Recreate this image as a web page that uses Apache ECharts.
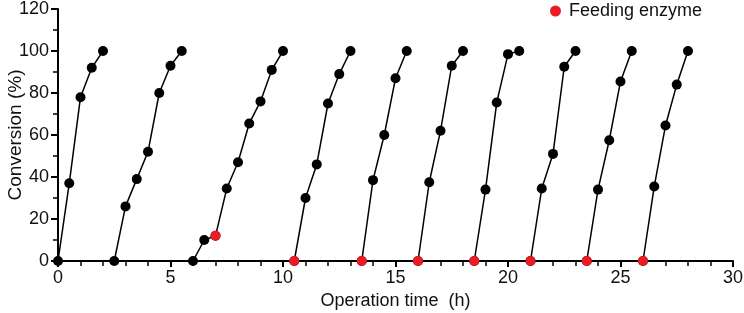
<!DOCTYPE html>
<html>
<head>
<meta charset="utf-8">
<script src="https://cdn.jsdelivr.net/npm/echarts@6/dist/echarts.min.js"></script>
<style>
  html, body { margin: 0; padding: 0; background: #fff; }
  #chart { width: 744px; height: 313px; }
</style>
</head>
<body>
<div id="chart"></div>
<script>
// operation time (h) of each batch run
var runTimes = [
  [0, 0.5, 1, 1.5, 2],
  [2.5, 3, 3.5, 4, 4.5, 5, 5.5],
  [6, 6.5, 7, 7.5, 8, 8.5, 9, 9.5, 10],
  [10.5, 11, 11.5, 12, 12.5, 13],
  [13.5, 14, 14.5, 15, 15.5],
  [16, 16.5, 17, 17.5, 18],
  [18.5, 19, 19.5, 20, 20.5],
  [21, 21.5, 22, 22.5, 23],
  [23.5, 24, 24.5, 25, 25.5],
  [26, 26.5, 27, 27.5, 28]
];
// conversion (%) of each batch run
var runConversion = [
  [0, 37, 78, 92, 100],
  [0, 26, 39, 52, 80, 93, 100],
  [0, 10, 12, 34.5, 47, 65.5, 76, 91, 100],
  [0, 30, 46, 75, 89, 100],
  [0, 38.5, 60, 87, 100],
  [0, 37.5, 62, 93, 100],
  [0, 34, 75.5, 98.5, 100],
  [0, 34.5, 51, 92.5, 100],
  [0, 34, 57.5, 85.5, 100],
  [0, 35.5, 64.5, 84, 100]
];
// points where enzyme was fed
var feedTimes = [7, 10.5, 13.5, 16, 18.5, 21, 23.5, 26];
var feedConversion = [12, 0, 0, 0, 0, 0, 0, 0];

var tickColor = '#000';

var myChart = echarts.init(document.getElementById('chart'));

var font = 'Liberation Sans, Arial, sans-serif';
var series = [];
for (var i = 0; i < runTimes.length; i++) {
  var pts = [];
  for (var j = 0; j < runTimes[i].length; j++) {
    pts.push([runTimes[i][j], runConversion[i][j]]);
  }
  series.push({
    name: 'run' + (i + 1),
    type: 'line',
    data: pts,
    symbol: 'circle',
    symbolSize: 10,
    clip: false,
    lineStyle: { color: '#000', width: 1.5 },
    itemStyle: { color: '#000', opacity: 1 },
    z: 3
  });
}
var feedPts = [];
for (var k = 0; k < feedTimes.length; k++) {
  feedPts.push([feedTimes[k], feedConversion[k]]);
}
// red dots drawn over the run points where enzyme was added
series.push({
  name: 'Feeding enzyme',
  type: 'scatter',
  data: feedPts,
  symbol: 'circle',
  symbolSize: 10,
  clip: false,
  itemStyle: { color: '#ec1c24', opacity: 1 },
  z: 4
});

myChart.setOption({
  animation: false,
  backgroundColor: '#fff',
  legend: {
    data: ['Feeding enzyme'],
    left: 550,
    top: 2,
    padding: 0,
    icon: 'circle',
    itemWidth: 11,
    itemHeight: 11,
    itemGap: 10,
    itemStyle: { opacity: 1 },
    textStyle: { fontFamily: font, fontSize: 18, color: '#111', padding: [0, 0, 0, 3] }
  },
  grid: { left: 58, right: 11, top: 9, bottom: 52, outerBoundsMode: 'none' },
  xAxis: {
    type: 'value',
    min: 0,
    max: 30,
    interval: 5,
    name: 'Operation time  (h)',
    nameLocation: 'middle',
    nameGap: 31,
    nameMoveOverlap: false,
    nameTextStyle: { fontFamily: font, fontSize: 18, color: '#111' },
    axisLine: { show: true, lineStyle: { color: '#000', width: 2 } },
    axisTick: { show: true, length: 6, lineStyle: { color: tickColor, width: 2 } },
    minorTick: { show: true, splitNumber: 5, length: 5, lineStyle: { color: tickColor, width: 1.5 } },
    axisLabel: { fontFamily: font, fontSize: 18, color: '#111', margin: 8 },
    splitLine: { show: false }
  },
  yAxis: {
    type: 'value',
    min: 0,
    max: 120,
    interval: 20,
    name: 'Conversion (%)',
    nameLocation: 'middle',
    nameGap: 33,
    nameMoveOverlap: false,
    nameTextStyle: { fontFamily: font, fontSize: 19, color: '#111' },
    axisLine: { show: true, lineStyle: { color: '#000', width: 2 } },
    axisTick: { show: true, length: 7, lineStyle: { color: tickColor, width: 2 } },
    minorTick: { show: true, splitNumber: 2, length: 5, lineStyle: { color: tickColor, width: 1.5 } },
    axisLabel: { fontFamily: font, fontSize: 18, color: '#111', margin: 9 },
    splitLine: { show: false }
  },
  series: series
});
</script>
</body>
</html>
